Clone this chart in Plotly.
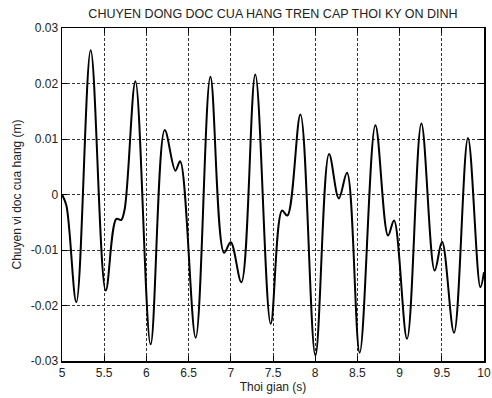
import plotly.graph_objects as go

time_s = [5.0, 5.052, 5.17, 5.34, 5.518, 5.644, 5.70, 5.743, 5.87, 6.05,
          6.217, 6.343, 6.40, 6.584, 6.758, 6.92, 6.999, 7.125, 7.29, 7.473,
          7.607, 7.67, 7.825, 8.002, 8.164, 8.28, 8.377, 8.527, 8.713, 8.863,
          8.934, 9.088, 9.258, 9.416, 9.503, 9.645, 9.81, 9.957, 10.0]
disp_m = [0.0, -0.002, -0.0194, 0.026, -0.0173, -0.0044, -0.0046, -0.0026, 0.0204, -0.027,
          0.0116, 0.0043, 0.006, -0.0258, 0.0212, -0.0105, -0.0086, -0.0158, 0.0216, -0.0233,
          -0.0029, -0.0038, 0.0144, -0.029, 0.0073, -0.0007, 0.0039, -0.0285, 0.0125, -0.0074,
          -0.0047, -0.026, 0.0128, -0.0137, -0.0085, -0.0249, 0.0102, -0.0167, -0.014]

x_ticks = [5, 5.5, 6, 6.5, 7, 7.5, 8, 8.5, 9, 9.5, 10]
x_tick_labels = ["5", "5.5", "6", "6.5", "7", "7.5", "8", "8.5", "9", "9.5", "10"]
y_ticks = [-0.03, -0.02, -0.01, 0, 0.01, 0.02, 0.03]
y_tick_labels = ["-0.03", "-0.02", "-0.01", "0", "0.01", "0.02", "0.03"]

FONT = "Liberation Sans, Arial"
TXT = "#222"

fig = go.Figure()
fig.add_trace(go.Scatter(x=time_s, y=disp_m, mode="lines",
                         line=dict(color="black", width=2, shape="spline", smoothing=1.0),
                         showlegend=False, hoverinfo="skip"))

axis_common = dict(showline=True, linecolor="black", linewidth=1.5, mirror="allticks",
                   ticks="inside", ticklen=5, tickcolor="black", tickwidth=1,
                   showgrid=True, gridcolor="#333", gridwidth=1, griddash="3px,2px",
                   zeroline=False, automargin=False,
                   tickfont=dict(family=FONT, size=12, color=TXT))

fig.update_xaxes(range=[5, 10], tickvals=x_ticks, ticktext=x_tick_labels,
                 title=dict(text="Thoi gian (s)", font=dict(family=FONT, size=12, color=TXT), standoff=2),
                 **axis_common)
fig.update_yaxes(range=[-0.03, 0.03], tickvals=y_ticks, ticktext=y_tick_labels,
                 title=dict(text="Chuyen vi doc cua hang (m)", font=dict(family=FONT, size=12, color=TXT), standoff=6),
                 **axis_common)

fig.update_layout(
    width=492, height=398,
    margin=dict(l=62, r=8, t=28, b=37, autoexpand=False),
    paper_bgcolor="white", plot_bgcolor="white",
    title=dict(text="CHUYEN DONG DOC CUA HANG TREN CAP THOI KY ON DINH",
               font=dict(family=FONT, size=12.5, color=TXT),
               x=0.5, xref="paper", xanchor="center", y=1 - 14 / 398, yanchor="middle"),
)

fig.write_html("out.html", config={"displayModeBar": False, "staticPlot": True},
               post_script="document.body.style.margin='0';document.body.style.padding='0';")
